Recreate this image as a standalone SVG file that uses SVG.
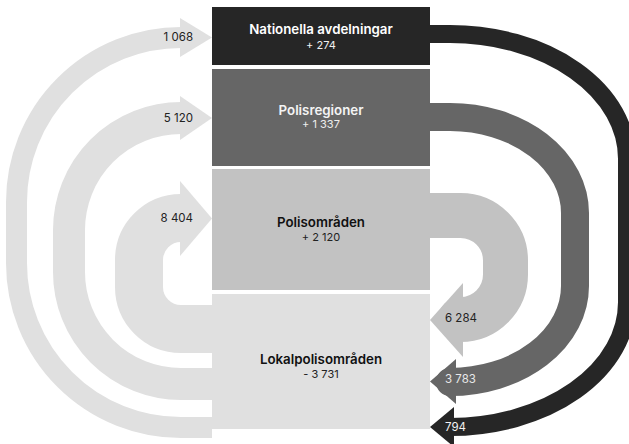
<svg xmlns="http://www.w3.org/2000/svg" width="629" height="444" viewBox="0 0 629 444">
<style>
  text { font-family: Inter, "Liberation Sans", Arial, sans-serif; }
  .title { font-size: 13.3px; font-weight: 600; text-anchor: middle; }
  .num { font-size: 11px; text-anchor: middle; }
  .lbl { font-size: 11.5px; fill: #222222; }
  .lbl-l { text-anchor: end; }
  .flow { fill: none; stroke-linecap: butt; stroke-linejoin: round; }
  .c-dark { stroke: #262626; }
  .c-mid { stroke: #666666; }
  .c-soft { stroke: #c2c2c2; }
  .c-pale { stroke: #e0e0e0; }
  .f-dark { fill: #262626; }
  .f-mid { fill: #666666; }
  .f-soft { fill: #c2c2c2; }
  .f-pale { fill: #e0e0e0; }
</style>
<rect x="0" y="0" width="629" height="444" fill="#ffffff"/>

<g id="connectors">
  <!-- left flows from Lokalpolisområden -->
  <path class="flow c-pale" stroke-width="21" d="M212,427.5 H181 A164.5,164.5 0 0 1 16.5,263 V202 A164.5,164.5 0 0 1 181,37.5 H184"/>
  <polygon class="f-pale" points="180,18 212,37.5 180,57"/>
  <path class="flow c-pale" stroke-width="32" d="M212,384 H181 A112,112 0 0 1 69,272 V230 A112,112 0 0 1 181,118 H184"/>
  <polygon class="f-pale" points="180,96 212,118 180,140"/>
  <path class="flow c-pale" stroke-width="48" d="M212,329 H181 A42,42 0 0 1 139,287 V260 A42,42 0 0 1 181,218 H184"/>
  <polygon class="f-pale" points="180,181 212,218.5 180,256"/>

  <!-- right flows to Lokalpolisområden -->
  <path class="flow c-dark" stroke-width="18" d="M430,34 H450 A177,124.7 0 0 1 627,158.7 V302.3 A177,124.7 0 0 1 450,427 H456"/>
  <polygon class="f-dark" points="454,407 430,427 454,447"/>
  <path class="flow c-mid" stroke-width="28" d="M430,117 H450 A125,96 0 0 1 575,213 V286 A125,96 0 0 1 450,382 H458"/>
  <polygon class="f-mid" points="456,359 430,381.5 456,404"/>
  <path class="flow c-soft" stroke-width="45" d="M430,215.5 H460.5 A45,45 0 0 1 505.5,260.5 V274.5 A45,45 0 0 1 460.5,319.5 H465"/>
  <polygon class="f-soft" points="463,283 430,320 463,357"/>

  <text class="lbl lbl-l" x="193" y="40.5">1 068</text>
  <text class="lbl lbl-l" x="193" y="122">5 120</text>
  <text class="lbl lbl-l" x="193" y="222">8 404</text>
  <text class="lbl" x="445" y="322">6 284</text>
  <text class="lbl" x="445" y="383" style="fill:#e8e8e8">3 783</text>
  <text class="lbl" x="445" y="431" style="fill:#f2f2f2">794</text>
</g>

<g id="node-nationella">
  <rect x="212" y="7" width="218" height="58" fill="#262626"/>
  <text class="title" x="321" y="34" fill="#ffffff">Nationella avdelningar</text>
  <text class="num" x="321" y="49" fill="#f0f0f0">+ 274</text>
</g>
<g id="node-polisregioner">
  <rect x="212" y="69" width="218" height="97" fill="#666666"/>
  <text class="title" x="321" y="115" fill="#f4f4f4">Polisregioner</text>
  <text class="num" x="321" y="128" fill="#eeeeee">+ 1 337</text>
</g>
<g id="node-polisomraden">
  <rect x="212" y="169" width="218" height="121" fill="#c2c2c2"/>
  <text class="title" x="321" y="227" fill="#111111">Polisområden</text>
  <text class="num" x="321" y="241" fill="#222222">+ 2 120</text>
</g>
<g id="node-lokalpolisomraden">
  <rect x="212" y="294" width="218" height="135" fill="#e0e0e0"/>
  <text class="title" x="321" y="364" fill="#111111">Lokalpolisområden</text>
  <text class="num" x="321" y="377.5" fill="#222222">- 3 731</text>
</g>
</svg>
